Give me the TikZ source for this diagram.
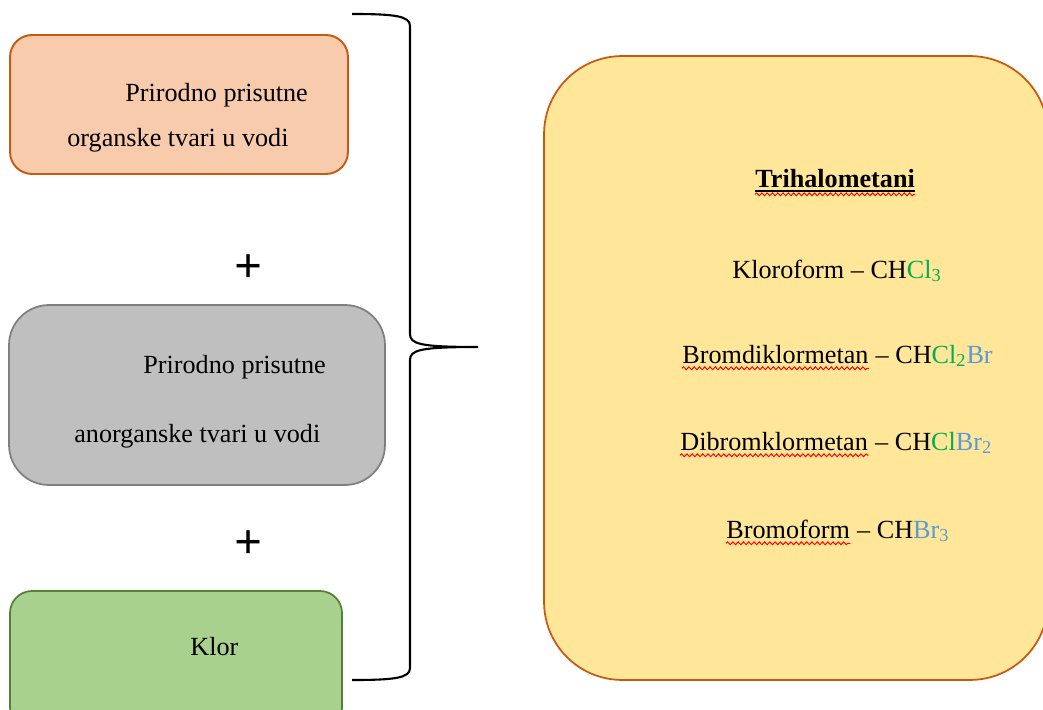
\documentclass[tikz,border=0pt]{standalone}
\usepackage{fontspec}
\setmainfont{Liberation Serif}
\usepackage{xcolor}
\usetikzlibrary{decorations.pathmorphing}

\definecolor{orangefill}{HTML}{F8CBAD}
\definecolor{orangeline}{HTML}{C55A11}
\definecolor{grayfill}{HTML}{BFBFBF}
\definecolor{grayline}{HTML}{7F7F7F}
\definecolor{greenfill}{HTML}{A9D18E}
\definecolor{greenline}{HTML}{548235}
\definecolor{yellowfill}{HTML}{FFE699}
\definecolor{clgreen}{HTML}{00B050}
\definecolor{brblue}{HTML}{5B9BD5}

\begin{document}
\begin{tikzpicture}[x=0.02cm,y=-0.02cm,
  box/.style={draw,line width=1pt,inner sep=0},
  txt/.style={font=\fontsize{14.9pt}{18pt}\selectfont,inner sep=0,anchor=base west},
  plus/.style={font=\fontsize{28pt}{30pt}\selectfont\bfseries,inner sep=0},
  wavy/.style={draw=red,line width=0.55pt,decorate,
    decoration={snake,amplitude=0.8pt,segment length=3pt}}]
  \useasboundingbox (0,0) rectangle (1043,709);
  \clip (0,0) rectangle (1043,709);

  % lijeva strana
  \node[box,fill=orangefill,draw=orangeline,line width=1.1pt,rounded corners=0.44cm,
    minimum width=6.76cm,minimum height=2.78cm] (org) at (179,104.5) {};
  \node[txt] (org1) at (125,102) {Prirodno prisutne};
  \node[txt] (org2) at (67,147) {organske tvari u vodi};

  \node[plus] (p1) at (248.5,269) {+};

  \node[box,fill=grayfill,draw=grayline,rounded corners=0.8cm,
    minimum width=7.52cm,minimum height=3.6cm] (anorg) at (197,395) {};
  \node[txt] (anorg1) at (143,373) {Prirodno prisutne};
  \node[txt] (anorg2) at (74,442) {anorganske tvari u vodi};

  \node[plus] (p2) at (248.5,545) {+};

  \node[box,fill=greenfill,draw=greenline,rounded corners=0.44cm,
    minimum width=6.64cm,minimum height=2.78cm] (klor) at (176,660.5) {};
  \node[txt] (klor1) at (190,655) {Klor};

  % zagrada
  \coordinate (b1) at (352,14);
  \coordinate (tip) at (478,347);
  \coordinate (b2) at (352,680);
  \draw[line width=1.2pt] (b1) .. controls (395,14) and (410,16) .. (410,26) -- (410,334)
    .. controls (410,344) and (420,347) .. (tip)
    .. controls (420,347) and (410,350) .. (410,360) -- (410,668)
    .. controls (410,678) and (395,680) .. (b2);

  % desna strana
  \node[box,fill=yellowfill,draw=orangeline,rounded corners=1.56cm,
    minimum width=10.08cm,minimum height=12.48cm] (thm) at (796,368) {};
  \node[txt,font=\fontsize{14.9pt}{18pt}\selectfont\bfseries] (naslov) at (755,188) {Trihalometani};
  \draw[line width=0.8pt] ([yshift=-1.8pt]naslov.base west) -- ([yshift=-1.8pt]naslov.base east);
  \draw[wavy] ([yshift=-3.6pt]naslov.base west) -- ([yshift=-3.6pt]naslov.base east);

  \node[txt] (kloro) at (732,278) {Kloroform -- CH\textcolor{clgreen}{Cl\textsubscript{3}}};

  \node[txt] (brom) at (682,363) {Bromdiklormetan};
  \node[txt] (bromf) at (brom.base east) {\ -- CH\textcolor{clgreen}{Cl\textsubscript{2}}\textcolor{brblue}{Br}};
  \draw[wavy] ([yshift=-3pt]brom.base west) -- ([yshift=-3pt]brom.base east);

  \node[txt] (dibrom) at (680,450) {Dibromklormetan};
  \node[txt] (dibromf) at (dibrom.base east) {\ -- CH\textcolor{clgreen}{Cl}\textcolor{brblue}{Br\textsubscript{2}}};
  \draw[wavy] ([yshift=-3pt]dibrom.base west) -- ([yshift=-3pt]dibrom.base east);

  \node[txt] (bromo) at (726,538) {Bromoform};
  \node[txt] (bromof) at (bromo.base east) {\ -- CH\textcolor{brblue}{Br\textsubscript{3}}};
  \draw[wavy] ([yshift=-3pt]bromo.base west) -- ([yshift=-3pt]bromo.base east);
\end{tikzpicture}
\end{document}
